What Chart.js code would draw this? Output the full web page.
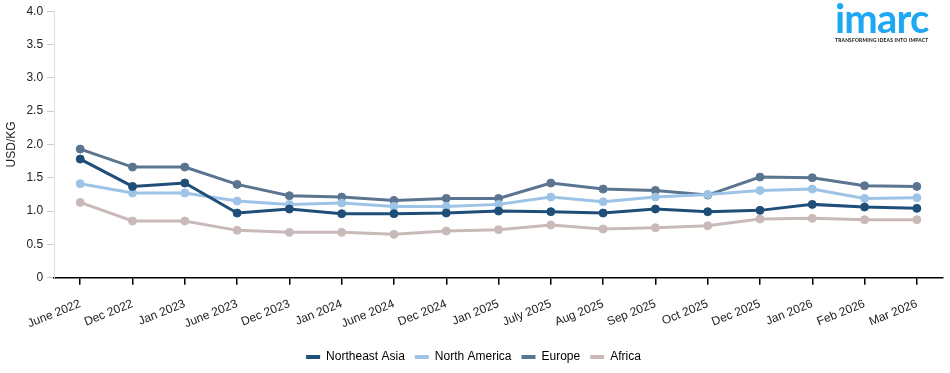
<!DOCTYPE html>
<html>
<head>
<meta charset="utf-8">
<script src="https://cdn.jsdelivr.net/npm/chart.js@4/dist/chart.umd.min.js"></script>
<style>
  html, body { margin: 0; padding: 0; background: #fff; }
  #wrap { position: relative; width: 950px; height: 373px; }
  #logo { position: absolute; left: 835px; top: 0px; font-family: "Lato", "Liberation Sans", sans-serif; color: #1ea7f2; }
  #logo .name { font-size: 40px; font-weight: 700; line-height: 37px; letter-spacing: -0.8px; }
  #logo .tag { font-size: 4.8px; font-weight: 900; color: #222; letter-spacing: 0.25px; margin-top: 0px; }
</style>
</head>
<body>
<div id="wrap">
  <canvas id="price-chart" width="950" height="373"></canvas>
  <div id="logo"><div class="name">imarc</div><div class="tag">TRANSFORMING IDEAS INTO IMPACT</div></div>
</div>
<script>
const periods = ['June 2022', 'Dec 2022', 'Jan 2023', 'June 2023', 'Dec 2023', 'Jan 2024', 'June 2024', 'Dec 2024',
    'Jan 2025', 'July 2025', 'Aug 2025', 'Sep 2025', 'Oct 2025', 'Dec 2025', 'Jan 2026', 'Feb 2026', 'Mar 2026'];

const northeastAsia = [1.78, 1.37, 1.42, 0.97, 1.03, 0.96, 0.96, 0.97, 1.00, 0.99, 0.97, 1.03, 0.99, 1.01, 1.10, 1.06, 1.04];
const northAmerica  = [1.41, 1.27, 1.27, 1.15, 1.10, 1.12, 1.07, 1.07, 1.10, 1.21, 1.14, 1.21, 1.25, 1.31, 1.33, 1.19, 1.20];
const europe        = [1.93, 1.66, 1.66, 1.40, 1.23, 1.21, 1.16, 1.19, 1.19, 1.42, 1.33, 1.31, 1.24, 1.51, 1.50, 1.38, 1.37];
const africa        = [1.13, 0.85, 0.85, 0.71, 0.68, 0.68, 0.65, 0.70, 0.72, 0.79, 0.73, 0.75, 0.78, 0.88, 0.89, 0.87, 0.87];

const yTicks = [0, 0.5, 1.0, 1.5, 2.0, 2.5, 3.0, 3.5, 4.0];

function makeSeries(label, data, color) {
    return {
        label: label,
        data: data,
        borderColor: color,
        backgroundColor: color,
        pointBackgroundColor: color,
        pointBorderColor: color,
        borderWidth: 3,
        pointRadius: 4,
        pointBorderWidth: 1,
        pointHoverRadius: 4,
        tension: 0,
        fill: false
    };
}

const chartData = {
    labels: periods,
    datasets: [
        makeSeries('Northeast Asia', northeastAsia, '#1f4e79'),
        makeSeries('North America', northAmerica, '#9dc3e6'),
        makeSeries('Europe', europe, '#5b7591'),
        makeSeries('Africa', africa, '#c9b9b9')
    ]
};

Chart.defaults.font.family = '"Liberation Sans", Arial, sans-serif';
Chart.defaults.color = '#222';

new Chart(document.getElementById('price-chart'), {
    type: 'line',
    data: chartData,
    options: {
        responsive: false,
        animation: false,
        layout: { padding: { left: 4, right: 7, top: 5, bottom: 0 } },
        plugins: {
            legend: {
                position: 'bottom',
                labels: {
                    boxWidth: 14,
                    boxHeight: 4,
                    padding: 10,
                    font: { size: 12 },
                    color: '#222',
                    generateLabels: function(chart) {
                        return chart.data.datasets.map((ds, i) => ({
                            text: ds.label,
                            fillStyle: ds.borderColor,
                            strokeStyle: ds.borderColor,
                            lineWidth: 0,
                            datasetIndex: i
                        }));
                    }
                }
            },
            tooltip: { enabled: false }
        },
        scales: {
            x: {
                offset: true,
                afterFit: function(axis) {
                    axis.height -= 2;
                },
                border: { display: true, color: '#000', width: 1.5 },
                grid: { display: true, drawOnChartArea: false, drawTicks: true, tickLength: 7, color: '#000', lineWidth: 1.5 },
                ticks: { maxRotation: 22, minRotation: 22, autoSkip: false, padding: 12, font: { size: 12 }, color: '#222' }
            },
            y: {
                min: 0,
                max: 4,
                afterBuildTicks: function(axis) {
                    axis.ticks = yTicks.map(v => ({ value: v }));
                },
                border: { display: true, color: '#ddd' },
                grid: { display: true, drawOnChartArea: false, drawTicks: true, tickLength: 7, color: '#ccc' },
                ticks: {
                    padding: 4,
                    font: { size: 12 },
                    color: '#222',
                    callback: v => v === 0 ? '0' : v.toFixed(1)
                },
                title: { display: true, text: 'USD/KG', font: { size: 12 }, color: '#222', padding: { top: 0, bottom: 4 } }
            }
        }
    }
});
</script>
</body>
</html>
